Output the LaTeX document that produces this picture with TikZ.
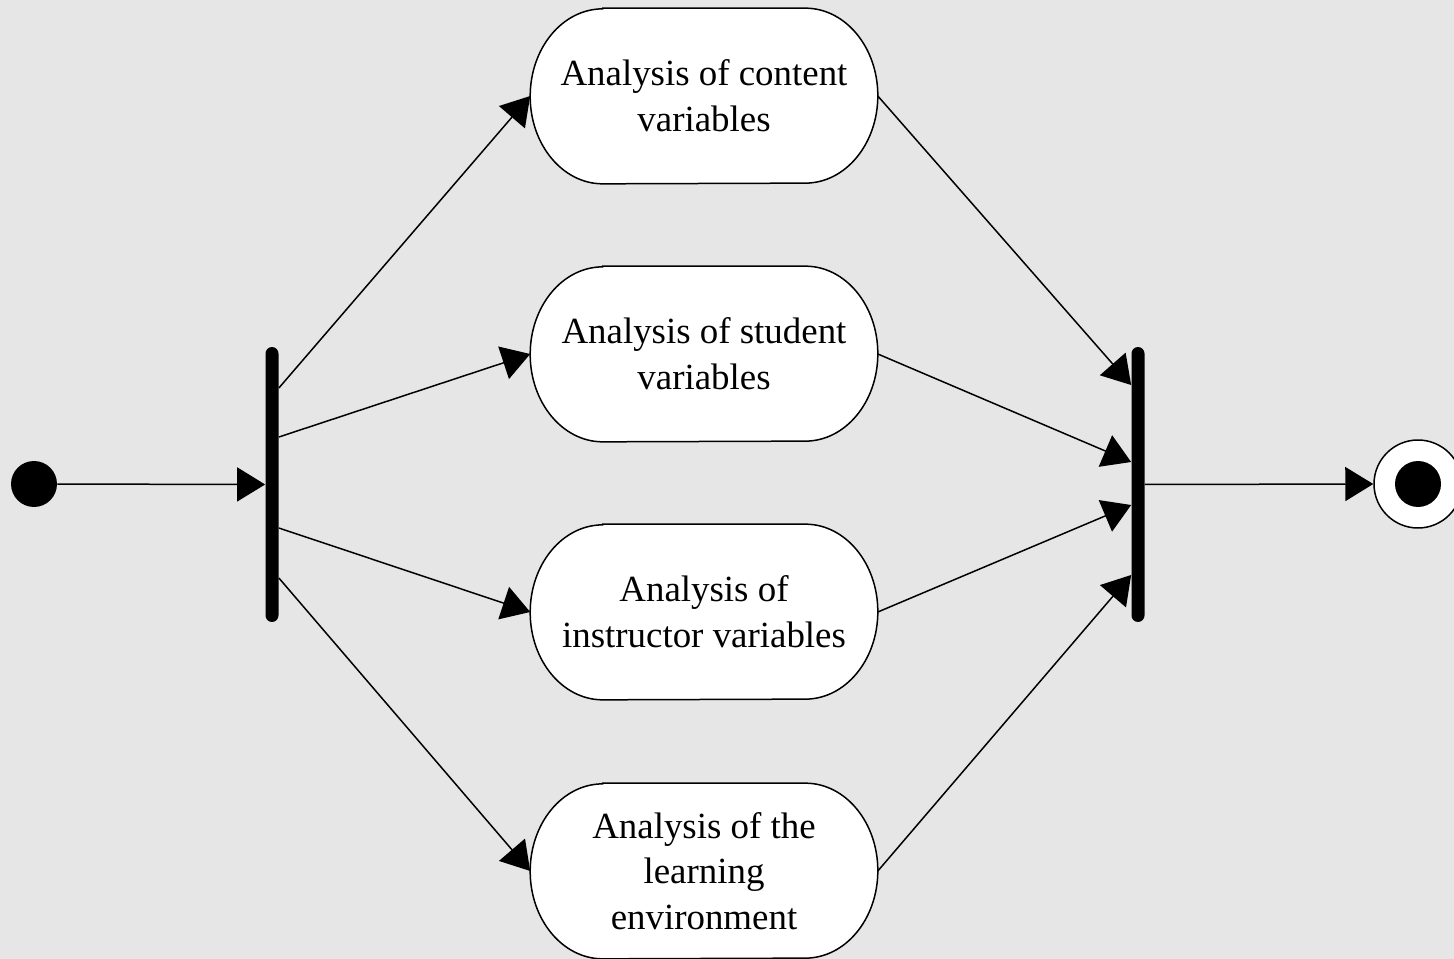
\documentclass[tikz,border=0pt]{standalone}
\usepackage{fontspec}
\setmainfont{Liberation Serif}
\usetikzlibrary{arrows.meta,backgrounds}
\definecolor{canvasgray}{HTML}{E6E6E6}

\begin{document}
\begin{tikzpicture}[x=0.02cm, y=-0.02cm,
    flow/.style={line width=0.03cm, -{Triangle[length=0.56cm,width=0.68cm]}},
    activity/.style={minimum width=6.94cm, minimum height=3.5cm, inner sep=0pt, align=center,
        font=\fontsize{21}{26}\selectfont},
    syncbar/.style={fill=black, minimum width=0.26cm, minimum height=5.5cm, inner sep=0pt, rounded corners=0.13cm},
    startdot/.style={circle, fill=black, minimum size=0.92cm, inner sep=0pt},
    endring/.style={circle, draw=black, fill=white, line width=0.03cm, minimum size=1.76cm, inner sep=0pt}]
    \useasboundingbox (0,0) rectangle (1454,959);
    \clip (0,0) rectangle (1454,959);

    \node[startdot] (init) at (34,484) {};
    \node[syncbar] (fork) at (272,484.5) {};
    \node[syncbar] (join) at (1138,484.5) {};
    \node[endring] (final) at (1418,484) {};
    \node[startdot] (finaldot) at (final) {};

    \node[activity] (content) at (704,96) {Analysis of content\\variables};
    \node[activity] (student) at (704,354) {Analysis of student\\variables};
    \node[activity] (instructor) at (704,612) {Analysis of\\instructor variables};
    \node[activity] (environment) at (704,871) {Analysis of the\\learning\\environment};

    \begin{scope}[on background layer]
        \fill[canvasgray] (0,0) rectangle (1454,959);
        \foreach \n in {content,student,instructor,environment}
            \filldraw[fill=white, line width=0.03cm]
                ([xshift=1.45cm]\n.north west) -- ([xshift=-1.45cm]\n.north east)
                arc[start angle=90, end angle=-90, x radius=1.45cm, y radius=1.75cm]
                -- ([xshift=1.45cm]\n.south west)
                arc[start angle=270, end angle=90, x radius=1.45cm, y radius=1.75cm] -- cycle;
    \end{scope}

    \draw[flow] (init) -- (fork.west);
    \draw[flow] ([yshift=1.93cm]fork.east) -- (content.west);
    \draw[flow] ([yshift=0.95cm]fork.east) -- (student.west);
    \draw[flow] ([yshift=-0.87cm]fork.east) -- (instructor.west);
    \draw[flow] ([yshift=-1.87cm]fork.east) -- (environment.west);

    \draw[flow] (content.east) -- ([yshift=1.99cm]join.west);
    \draw[flow] (student.east) -- ([yshift=0.45cm]join.west);
    \draw[flow] (instructor.east) -- ([yshift=-0.41cm]join.west);
    \draw[flow] (environment.east) -- ([yshift=-1.81cm]join.west);

    \draw[flow] (join.east) -- (final.west);
\end{tikzpicture}
\end{document}
